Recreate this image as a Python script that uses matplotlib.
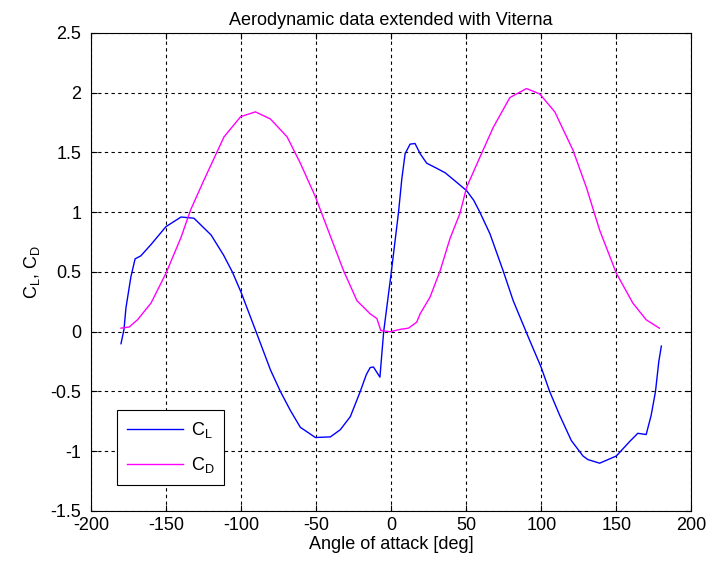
import matplotlib
matplotlib.use("Agg")
import matplotlib.pyplot as plt

# ── Data ──
alpha_cl = [-180, -178, -176.7, -173.4, -170.6, -166.8, -160, -150, -140, -131.4,
            -120, -111.6, -105.8, -100, -90, -80.4, -73.8, -67.1, -60.5, -50.5,
            -40.5, -33.9, -27.2, -20.6, -16.6, -14, -11.8, -7.5, -5, 0,
            4.9, 7.1, 9.3, 12.6, 15.9, 19.3, 23.7, 30, 36, 43.7,
            50.3, 55, 59.1, 65.8, 74.6, 81.3, 91.2, 100, 105.6, 112.3,
            120, 127.8, 131.1, 138.9, 150, 158.8, 164.3, 169.9, 173.2, 176.1,
            178.3, 180]
cl = [-0.10, 0.02, 0.20, 0.46, 0.61, 0.635, 0.73, 0.88, 0.96, 0.95,
      0.81, 0.64, 0.50, 0.33, 0.00, -0.32, -0.50, -0.66, -0.80, -0.885,
      -0.88, -0.82, -0.71, -0.50, -0.36, -0.30, -0.295, -0.38, 0.00, 0.49,
      1.00, 1.28, 1.49, 1.57, 1.575, 1.49, 1.41, 1.37, 1.33, 1.25,
      1.18, 1.10, 1.00, 0.82, 0.51, 0.26, -0.04, -0.30, -0.50, -0.70,
      -0.91, -1.04, -1.07, -1.10, -1.04, -0.92, -0.85, -0.86, -0.70, -0.50,
      -0.25, -0.12]

alpha_cd = [-180, -174.5, -169, -160, -150, -140, -133.6, -124.7, -111.4, -100.3,
            -90.4, -80.4, -69.3, -60.5, -50.5, -40.5, -31.7, -22.8, -14, -9.5,
            -6.9, -0.7, 6, 11.5, 17, 19.3, 25.9, 32.6, 39.2, 45.8,
            50.3, 59.1, 68, 79.1, 90.2, 99, 109, 121.1, 130, 138.9,
            150, 161, 169.9, 178.7]
cd = [0.03, 0.04, 0.10, 0.24, 0.49, 0.79, 1.02, 1.27, 1.63, 1.80,
      1.84, 1.78, 1.63, 1.41, 1.13, 0.80, 0.51, 0.26, 0.15, 0.11,
      0.01, 0.00, 0.02, 0.03, 0.08, 0.15, 0.29, 0.51, 0.78, 0.99,
      1.21, 1.46, 1.71, 1.96, 2.035, 1.99, 1.84, 1.52, 1.21, 0.85,
      0.49, 0.24, 0.10, 0.03]

x_ticks = [-200, -150, -100, -50, 0, 50, 100, 150, 200]
y_ticks = [-1.5, -1, -0.5, 0, 0.5, 1, 1.5, 2, 2.5]

plt.rcParams["font.family"] = ["Liberation Sans", "DejaVu Sans"]
plt.rcParams["mathtext.default"] = "regular"
plt.rcParams["axes.unicode_minus"] = False

fig = plt.figure(figsize=(7.08, 5.65), dpi=100)
ax = fig.add_axes([0.1285, 0.0956, 0.848, 0.846])

ax.plot(alpha_cl, cl, color="#0000ff", linewidth=1.0, label="C$_L$")
ax.plot(alpha_cd, cd, color="#ff00ff", linewidth=1.0, label="C$_D$")

ax.set_xlim(-200, 200)
ax.set_ylim(-1.5, 2.5)
ax.set_xticks(x_ticks)
ax.set_yticks(y_ticks)
ax.set_xticklabels([str(t) for t in x_ticks])
ax.set_yticklabels(["%g" % t for t in y_ticks])
ax.tick_params(direction="in", top=True, right=True, labelsize=13, length=4)
ax.tick_params(axis="x", pad=4)
ax.tick_params(axis="y", pad=7)

ax.grid(True, color="black", linestyle=(0, (3, 3)), linewidth=0.8)
for s in ax.spines.values():
    s.set_linewidth(0.8)

ax.set_title("Aerodynamic data extended with Viterna", fontsize=13, pad=6)
ax.set_xlabel("Angle of attack [deg]", fontsize=13, labelpad=2)
ax.set_ylabel("C$_L$, C$_D$", fontsize=13, labelpad=6)

leg = ax.legend(loc="lower left", bbox_to_anchor=(0.044, 0.054), fontsize=13,
                fancybox=False, edgecolor="black", framealpha=1,
                handlelength=3.1, borderpad=0.55, labelspacing=0.85, handletextpad=0.4,
                borderaxespad=0)
leg.get_frame().set_linewidth(0.8)

fig.savefig("out.png", dpi=100)
